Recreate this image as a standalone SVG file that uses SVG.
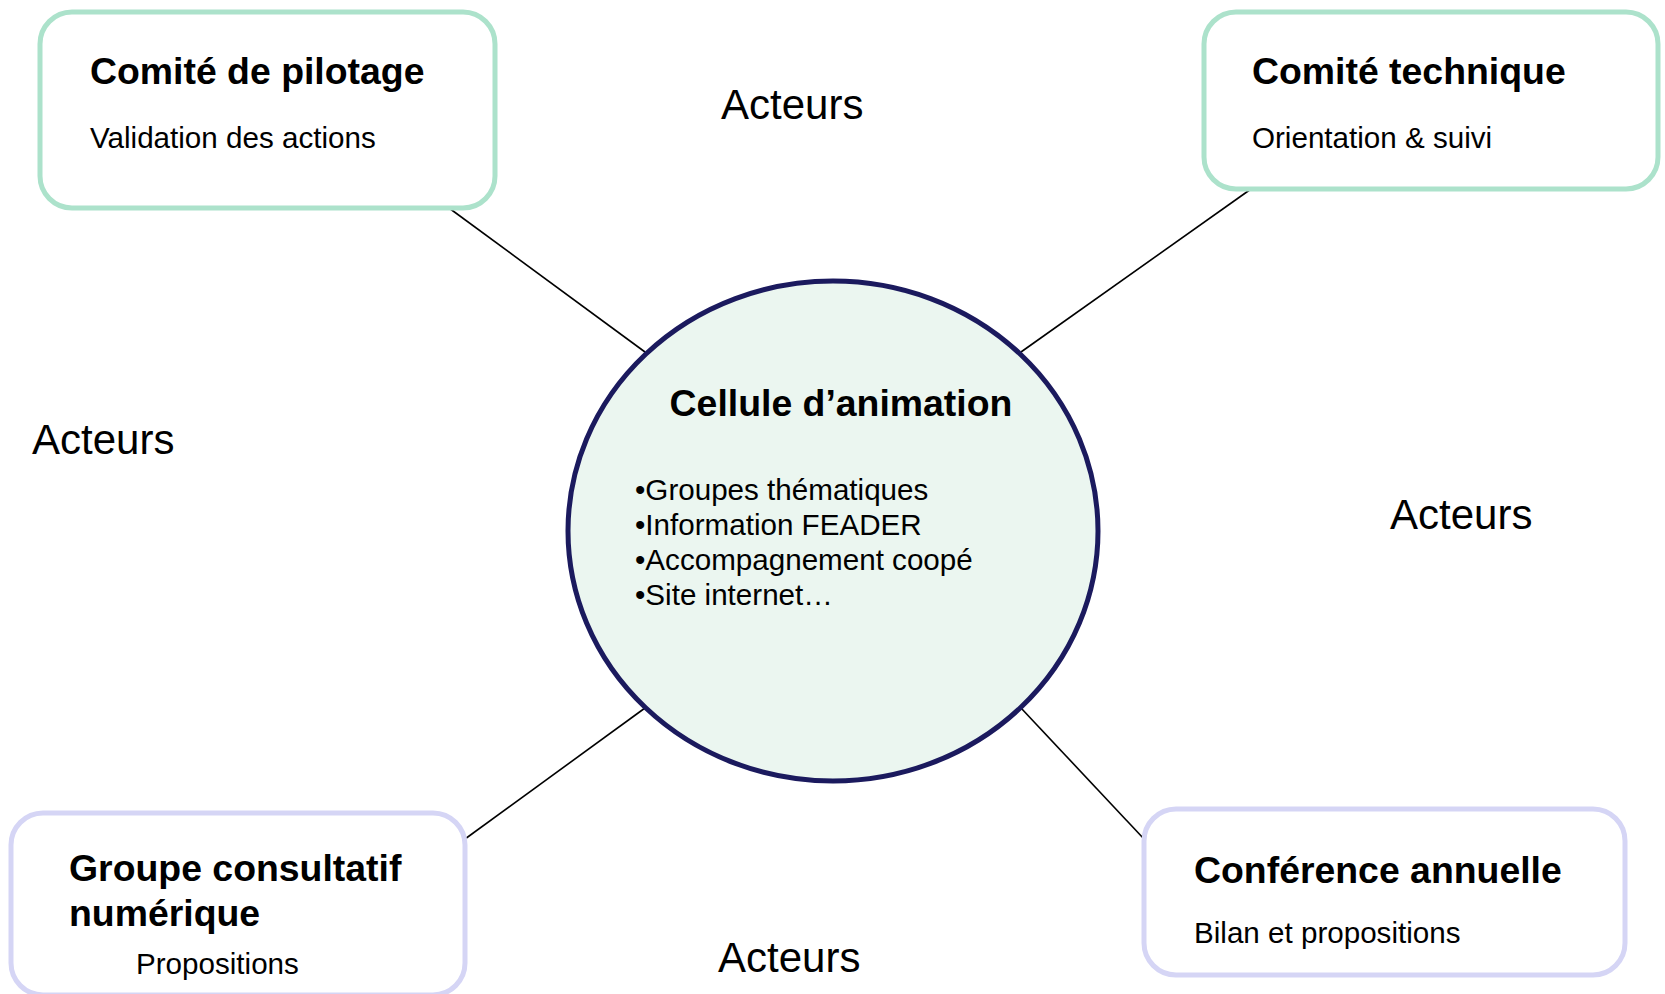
<svg xmlns="http://www.w3.org/2000/svg" width="1665" height="994" viewBox="0 0 1665 994">
<style>
.bg{fill:#ffffff}
.boxg{fill:#ffffff;stroke:#ACE2CB;stroke-width:5}
.boxp{fill:#ffffff;stroke:#D5D5F5;stroke-width:5}
.title{font-family:"Liberation Sans",Arial,sans-serif;font-weight:bold;font-size:37.4px;fill:#000}
.sub{font-family:"Liberation Sans",Arial,sans-serif;font-size:29.6px;fill:#000}
.act{font-family:"Liberation Sans",Arial,sans-serif;font-size:42px;fill:#000}
.conn{stroke:#000;stroke-width:1.6;fill:none}
</style>
<rect class="bg" x="0" y="0" width="1665" height="994"/>
<g id="connectors">
<line class="conn" x1="449" y1="208" x2="645" y2="352"/>
<line class="conn" x1="1251" y1="189" x2="1021" y2="352"/>
<line class="conn" x1="465" y1="839" x2="645" y2="708"/>
<line class="conn" x1="1144" y1="839" x2="1021" y2="708"/>
</g>
<g id="cellule">
<ellipse cx="833" cy="531" rx="265" ry="250" fill="#EBF6F0" stroke="#1B1A5E" stroke-width="5"/>
<text class="title" x="841" y="416" text-anchor="middle">Cellule d’animation</text>
<text class="sub" x="635" y="500">•Groupes thématiques</text>
<text class="sub" x="635" y="535">•Information FEADER</text>
<text class="sub" x="635" y="570">•Accompagnement coopé</text>
<text class="sub" x="635" y="605">•Site internet…</text>
</g>
<g id="comite-pilotage">
<rect class="boxg" x="40" y="12" width="455" height="196" rx="32"/>
<text class="title" x="90" y="84">Comité de pilotage</text>
<text class="sub" x="90" y="148">Validation des actions</text>
</g>
<g id="comite-technique">
<rect class="boxg" x="1204" y="12" width="454" height="177" rx="32"/>
<text class="title" x="1252" y="84">Comité technique</text>
<text class="sub" x="1252" y="148">Orientation &amp; suivi</text>
</g>
<g id="groupe-consultatif">
<rect class="boxp" x="11" y="813" width="454" height="182" rx="32"/>
<text class="title" x="69" y="881">Groupe consultatif</text>
<text class="title" x="69" y="926">numérique</text>
<text class="sub" x="136" y="974">Propositions</text>
</g>
<g id="conference-annuelle">
<rect class="boxp" x="1144" y="809" width="481" height="166" rx="32"/>
<text class="title" x="1194" y="883">Conférence annuelle</text>
<text class="sub" x="1194" y="943">Bilan et propositions</text>
</g>
<g id="acteurs">
<text class="act" x="721" y="119">Acteurs</text>
<text class="act" x="32" y="454">Acteurs</text>
<text class="act" x="1390" y="529">Acteurs</text>
<text class="act" x="718" y="972">Acteurs</text>
</g>
</svg>
